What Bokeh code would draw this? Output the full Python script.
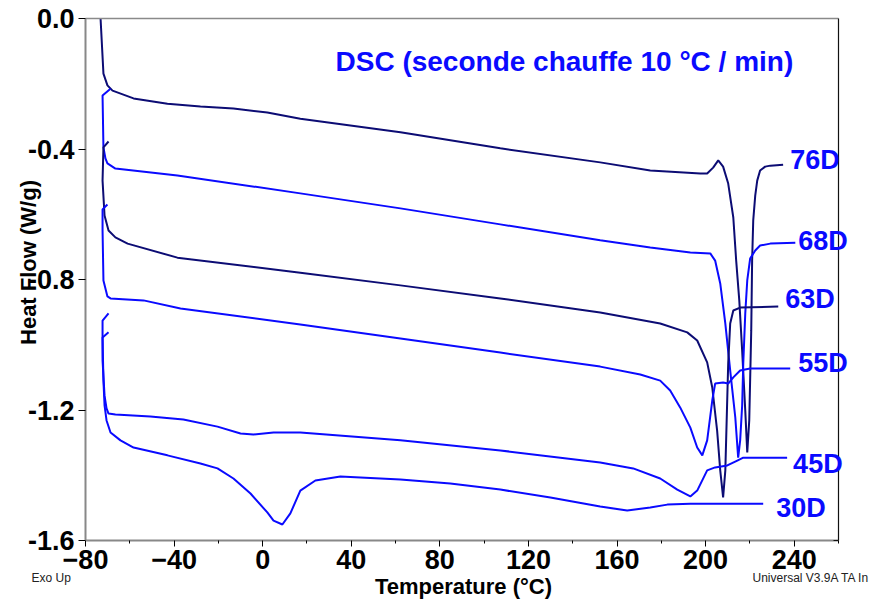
import math
from bokeh.plotting import figure
from bokeh.models import Range1d, FixedTicker, PrintfTickFormatter, Label, LinearAxis
from bokeh.embed import file_html
from bokeh.resources import INLINE

# ---------------- data (temperature in degC, heat flow in W/g) ----------------
temp_76D = [-73.2, -71.9, -70.1, -67.8, -58.3, -43.0, -28.1, -13.2, 2.1, 17.0, 62.2, 107.3,
            152.4, 175.0, 197.6, 200.7, 203.4, 205.7, 207.9, 210.2, 212.5, 213.8, 215.2, 216.5,
            217.9, 218.8, 219.7, 220.6, 221.0, 221.5, 222.4, 223.3, 224.6, 226.9, 229.2, 235.0]
hf_76D = [0.0, -0.169, -0.205, -0.221, -0.245, -0.261, -0.270, -0.276, -0.288, -0.307, -0.349,
          -0.398, -0.441, -0.466, -0.475, -0.475, -0.457, -0.435, -0.454, -0.506, -0.610, -0.742,
          -0.864, -1.018, -1.202, -1.330, -1.232, -0.956, -0.742, -0.619, -0.543, -0.497, -0.466,
          -0.454, -0.451, -0.448]

temp_68D = [-68.7, -72.3, -71.9, -71.0, -70.1, -66.5, -38.5, 17.0, 62.2, 107.3, 152.4, 175.0,
            193.1, 202.1, 204.3, 206.6, 208.9, 211.1, 213.4, 214.7, 215.6, 216.5, 217.0, 217.9,
            218.8, 220.1, 222.4, 224.6, 229.2, 240.5]
hf_68D = [-0.215, -0.236, -0.395, -0.429, -0.444, -0.460, -0.481, -0.536, -0.582, -0.631, -0.680,
          -0.702, -0.717, -0.720, -0.742, -0.812, -0.935, -1.079, -1.223, -1.346, -1.293, -1.186,
          -1.057, -0.904, -0.803, -0.736, -0.711, -0.696, -0.690, -0.687]

temp_63D = [-69.6, -71.9, -72.3, -71.4, -69.6, -66.5, -61.0, -38.5, 17.0, 62.2, 107.3, 152.4,
            179.5, 191.7, 196.2, 200.7, 203.0, 205.2, 206.6, 207.9, 208.9, 210.2, 211.1, 212.5,
            215.6, 232.8]
hf_63D = [-0.377, -0.395, -0.497, -0.604, -0.650, -0.671, -0.690, -0.733, -0.779, -0.818, -0.858,
          -0.901, -0.935, -0.962, -0.987, -1.054, -1.131, -1.263, -1.385, -1.468, -1.385, -1.057,
          -0.935, -0.895, -0.886, -0.883]

temp_55D = [-70.1, -72.3, -72.3, -71.9, -70.1, -68.7, -53.8, -37.1, 17.0, 62.2, 107.3, 152.4,
            170.5, 179.5, 184.0, 188.5, 193.1, 196.2, 198.5, 200.7, 203.0, 204.3, 207.9, 210.2,
            212.5, 215.6, 220.1, 238.2]
hf_55D = [-0.570, -0.585, -0.650, -0.803, -0.852, -0.858, -0.864, -0.889, -0.938, -0.981, -1.024,
          -1.067, -1.091, -1.110, -1.140, -1.192, -1.254, -1.315, -1.339, -1.293, -1.171, -1.119,
          -1.116, -1.119, -1.100, -1.079, -1.073, -1.073]

temp_45D = [-69.6, -72.3, -72.3, -71.4, -70.5, -69.6, -66.5, -50.7, -35.8, -20.4, -10.0, -4.2,
            4.9, 17.0, 62.2, 107.3, 152.4, 167.3, 179.5, 187.2, 193.1, 196.2, 200.7, 204.3,
            209.8, 214.3, 217.0, 236.8]
hf_45D = [-0.904, -0.926, -1.048, -1.156, -1.195, -1.211, -1.214, -1.220, -1.229, -1.251, -1.272,
          -1.275, -1.269, -1.269, -1.293, -1.324, -1.361, -1.379, -1.410, -1.444, -1.465, -1.447,
          -1.385, -1.376, -1.370, -1.355, -1.346, -1.346]

temp_30D = [-69.6, -72.3, -71.9, -71.4, -70.5, -68.7, -64.2, -58.3, -43.0, -28.1, -20.4, -13.2,
            -5.5, 2.1, 4.9, 8.9, 12.5, 17.0, 23.8, 35.1, 62.2, 84.7, 107.3, 129.9, 152.4, 164.6,
            175.0, 182.7, 193.1, 212.5, 226.0]
hf_30D = [-0.962, -0.978, -1.110, -1.186, -1.232, -1.269, -1.293, -1.315, -1.339, -1.364, -1.379,
          -1.410, -1.456, -1.514, -1.539, -1.551, -1.517, -1.447, -1.416, -1.404, -1.413, -1.425,
          -1.444, -1.468, -1.496, -1.508, -1.499, -1.490, -1.487, -1.487, -1.487]

series_names = ["76D", "68D", "63D", "55D", "45D", "30D"]
x_ticks = [-80, -40, 0, 40, 80, 120, 160, 200, 240]
x_minor_ticks = [-60, -20, 20, 60, 100, 140, 180, 220, 260]
y_ticks = [0.0, -0.4, -0.8, -1.2, -1.6]
x_lo, x_hi = -80, 260      # plotted temperature span
y_lo, y_hi = -1.6, 0.0     # plotted heat-flow span

# ---------------- layout / styling ----------------
W, H = 870, 599
PL, PT, PR, PB = 85, 18, 838, 540   # pixel box of the plot area
BLUE = "#0a0aff"
NAVY = "#0c0c74"
FONT = "Liberation Sans"

xs_per_px = (x_hi - x_lo) / (PR - PL)
ys_per_px = (y_hi - y_lo) / (PB - PT)
x_range = Range1d(x_lo - PL * xs_per_px, x_hi + (W - PR) * xs_per_px)
y_range = Range1d(y_lo - (H - PB) * ys_per_px, y_hi + PT * ys_per_px)

series = [
    (temp_76D, hf_76D, NAVY, 7, 5),
    (temp_68D, hf_68D, BLUE, 3, 2),
    (temp_63D, hf_63D, NAVY, 7, 8),
    (temp_55D, hf_55D, BLUE, 8, 6),
    (temp_45D, hf_45D, BLUE, 6, -6),
    (temp_30D, hf_30D, BLUE, 13, -4),
]

p = figure(width=W, height=H, output_backend="svg", toolbar_location=None,
           x_range=x_range, y_range=y_range, x_axis_location=None, y_axis_location=None,
           min_border=0)
p.background_fill_color = "white"
p.border_fill_color = "white"
p.outline_line_color = None
p.xgrid.visible = False
p.ygrid.visible = False


def style_axis(ax):
    ax.axis_line_color = "#888888"
    ax.axis_line_width = 2
    ax.major_tick_line_color = "black"
    ax.minor_tick_line_color = "black"
    ax.major_tick_in = 0
    ax.minor_tick_in = 0
    ax.major_label_text_font = FONT
    ax.major_label_text_font_style = "bold"
    ax.major_label_text_font_size = "27px"
    ax.major_label_text_color = "black"


xaxis = LinearAxis(fixed_location=y_lo, bounds=(x_lo, x_hi),
                   ticker=FixedTicker(ticks=x_ticks, minor_ticks=x_minor_ticks))
style_axis(xaxis)
xaxis.major_tick_out = 6
xaxis.minor_tick_out = 3
xaxis.major_label_standoff = 3
p.add_layout(xaxis, "below")

yaxis = LinearAxis(fixed_location=x_lo, bounds=(y_lo, y_hi),
                   ticker=FixedTicker(ticks=y_ticks, minor_ticks=[]),
                   formatter=PrintfTickFormatter(format="%.1f"))
style_axis(yaxis)
yaxis.major_tick_out = 7
yaxis.minor_tick_out = 0
yaxis.major_label_standoff = 4
p.add_layout(yaxis, "left")

# top (grey) and right (black) borders of the plot box
top_border = LinearAxis(fixed_location=y_hi, bounds=(x_lo, x_hi),
                        ticker=FixedTicker(ticks=[], minor_ticks=[]),
                        major_label_text_font_size="0px", axis_line_color="#8a8a8a",
                        axis_line_width=1.5)
p.add_layout(top_border, "above")
right_border = LinearAxis(fixed_location=x_hi, bounds=(y_lo, y_hi),
                          ticker=FixedTicker(ticks=[], minor_ticks=[y_lo]),
                          major_label_text_font_size="0px", axis_line_color="#111111",
                          axis_line_width=1.2, minor_tick_out=0, minor_tick_in=5,
                          minor_tick_line_color="#111111")
p.add_layout(right_border, "right")

for (xs, ys, col, dx, dy), name in zip(series, series_names):
    p.line(xs, ys, line_color=col, line_width=2)
    p.add_layout(Label(x=xs[-1], y=ys[-1], x_offset=dx, y_offset=dy, text=name,
                       text_font=FONT, text_font_style="bold", text_font_size="27px",
                       text_color=BLUE, text_baseline="middle", text_align="left"))

# axis titles
p.add_layout(Label(x=x_lo, y=y_lo, x_offset=378, y_offset=-46, text="Temperature (°C)",
                   text_font=FONT, text_font_style="bold", text_font_size="22px",
                   text_color="black", text_align="center", text_baseline="alphabetic"))
p.add_layout(Label(x=x_lo, y=(y_lo + y_hi) / 2, x_offset=-57, y_offset=17, angle=math.pi / 2,
                   text="Heat Flow (W/g)", text_font=FONT, text_font_style="bold",
                   text_font_size="22px", text_color="black", text_align="center",
                   text_baseline="middle"))

# chart title
p.add_layout(Label(x=x_lo, y=y_hi, x_offset=250, y_offset=-43,
                   text="DSC (seconde chauffe 10 °C / min)", text_font=FONT,
                   text_font_style="bold", text_font_size="28px", text_color=BLUE,
                   text_align="left", text_baseline="alphabetic"))

# footer notes (the right one is shown as far as it is visible in the original)
p.add_layout(Label(x=x_lo, y=y_lo, x_offset=-54, y_offset=-37, text="Exo Up", text_font=FONT,
                   text_font_size="12px", text_color="#222222", text_baseline="middle"))
p.add_layout(Label(x=x_hi, y=y_lo, x_offset=-86, y_offset=-37,
                   text="Universal V3.9A TA In", text_font=FONT,
                   text_font_size="12px", text_color="#222222", text_baseline="middle"))

open("out.html", "w").write(file_html(p, INLINE))
